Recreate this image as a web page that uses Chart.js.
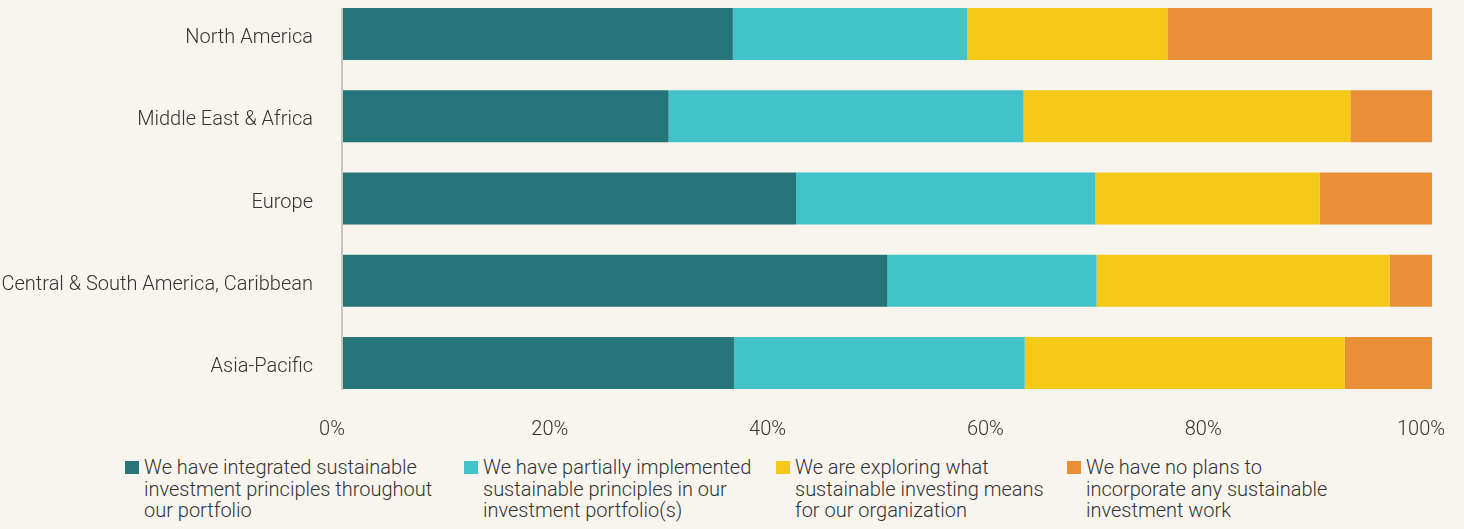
<!DOCTYPE html>
<html>
<head>
<meta charset="utf-8">
<script src="https://cdn.jsdelivr.net/npm/chart.js@4.4.1/dist/chart.umd.min.js"></script>
<style>
    html, body { margin: 0; padding: 0; background: #f8f5ef; }
    body { width: 1464px; height: 529px; position: relative; overflow: hidden;
           font-family: Roboto, sans-serif; font-weight: 300; color: #333; }
    #chart { position: absolute; left: 0; top: -49px; }
    #legend { position: absolute; left: 0; top: 457px; width: 1464px; height: 72px; }
    .item { position: absolute; top: 0; font-size: 20px; line-height: 21.5px; padding-left: 19px; white-space: nowrap; }
    .item .box { position: absolute; left: 0; top: 4px; width: 14px; height: 13px; }
</style>
</head>
<body>
<canvas id="chart" width="1464" height="495"></canvas>
<div id="legend"></div>
<script>
// Regions, top to bottom
const regions = ['North America', 'Middle East & Africa', 'Europe', 'Central & South America, Caribbean', 'Asia-Pacific'];

// Share of respondents (%) per region
const integrated = [35.8, 29.9, 41.6, 50.0, 35.9];
const partial    = [21.5, 32.6, 27.5, 19.2, 26.7];
const exploring  = [18.4, 30.0, 20.6, 26.9, 29.4];
const noPlans    = [24.3, 7.5, 10.3, 3.9, 8.0];

const seriesLabels = [
    ['We have integrated sustainable', 'investment principles throughout', 'our portfolio'],
    ['We have partially implemented', 'sustainable principles in our', 'investment portfolio(s)'],
    ['We are exploring what', 'sustainable investing means', 'for our organization'],
    ['We have no plans to', 'incorporate any sustainable', 'investment work']
];
const colors = ['#267578', '#41c3c9', '#f5c918', '#e88f37'];
const xTicks = [0, 20, 40, 60, 80, 100];

const FONT = 'Roboto, sans-serif';

// y axis line only spans the bars
const axisLine = {
    id: 'axisLine',
    beforeDatasetsDraw(chart) {
        const meta0 = chart.getDatasetMeta(0);
        const first = meta0.data[0], last = meta0.data[meta0.data.length - 1];
        const x = chart.scales.x.getPixelForValue(0);
        const ctx = chart.ctx;
        ctx.save();
        ctx.strokeStyle = '#c9c5bd';
        ctx.lineWidth = 2;
        ctx.beginPath();
        ctx.moveTo(x - 1, first.y - first.height / 2);
        ctx.lineTo(x - 1, last.y + last.height / 2 + 1);
        ctx.stroke();
        ctx.restore();
    }
};

const data = [integrated, partial, exploring, noPlans];

new Chart(document.getElementById('chart'), {
    type: 'bar',
    data: {
        labels: regions,
        datasets: data.map((d, i) => ({
            label: seriesLabels[i].join(' '),
            data: d,
            backgroundColor: colors[i],
            borderWidth: 0,
            barPercentage: 0.633,
            categoryPercentage: 1
        }))
    },
    options: {
        indexAxis: 'y',
        responsive: false,
        animation: false,
        layout: { autoPadding: false, padding: { top: 0, right: 32, bottom: 0, left: 0 } },
        plugins: { legend: { display: false }, tooltip: { enabled: false } },
        scales: {
            x: {
                stacked: true,
                min: 0,
                max: 100,
                afterBuildTicks: s => { s.ticks = xTicks.map(v => ({ value: v })); },
                afterFit: s => { s.height = 36; s.paddingLeft = 0; s.paddingRight = 0; },
                grid: { display: false, drawTicks: false },
                border: { display: false },
                ticks: {
                    padding: 14,
                    labelOffset: -11,
                    color: '#333',
                    font: { family: FONT, size: 20, weight: 300 },
                    callback: v => v + '%',
                    maxRotation: 0
                }
            },
            y: {
                stacked: true,
                afterFit: s => { s.width = 343; },
                grid: { display: false, drawTicks: false },
                border: { display: false },
                ticks: {
                    padding: 30,
                    labelOffset: 4,
                    color: '#333',
                    font: { family: FONT, size: 20, weight: 300 }
                }
            }
        }
    },
    plugins: [axisLine]
});

// HTML legend with wrapped labels
const legendX = [125, 464, 776, 1067];
const legend = document.getElementById('legend');
seriesLabels.forEach((lines, i) => {
    const item = document.createElement('div');
    item.className = 'item';
    item.style.left = legendX[i] + 'px';
    item.innerHTML = `<span class="box" style="background:${colors[i]}"></span>` + lines.join('<br>');
    legend.appendChild(item);
});
</script>
</body>
</html>
